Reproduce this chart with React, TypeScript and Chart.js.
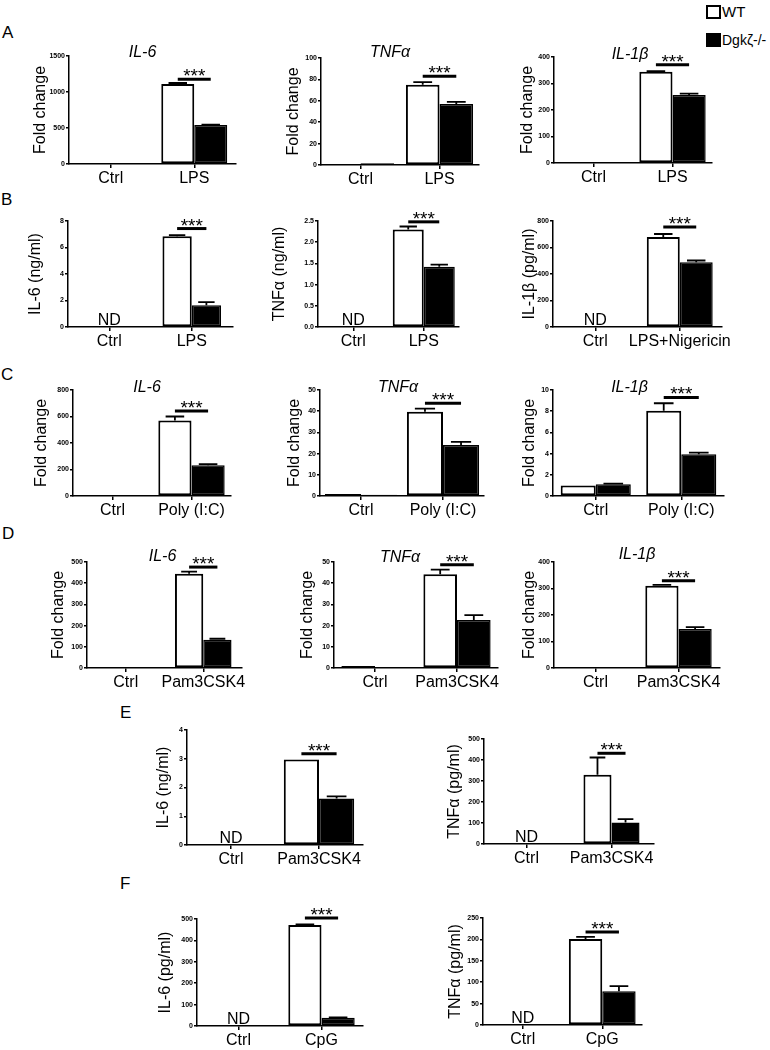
import React, { useEffect, useRef } from 'react';
import { Chart, registerables } from 'chart.js';

Chart.register(...registerables);

const FONT = '"Liberation Sans", Arial, Helvetica, sans-serif';

// ---------- categories ----------
const catLPS = ['Ctrl', 'LPS'];
const catLPSNig = ['Ctrl', 'LPS+Nigericin'];
const catPoly = ['Ctrl', 'Poly (I:C)'];
const catPam = ['Ctrl', 'Pam3CSK4'];
const catCpG = ['Ctrl', 'CpG'];

// ---------- A: fold change after LPS ----------
const A_IL6_WT = [1, 1110];
const A_IL6_KO = [1, 540];
const A_IL6_WT_SEM = [0, 15];
const A_IL6_KO_SEM = [0, 8];
const A_TNF_WT = [0.9, 75];
const A_TNF_KO = [1.6, 57];
const A_TNF_WT_SEM = [0, 2.5];
const A_TNF_KO_SEM = [0, 2];
const A_IL1B_WT = [1, 344];
const A_IL1B_KO = [2, 257];
const A_IL1B_WT_SEM = [0, 3];
const A_IL1B_KO_SEM = [0, 5];

// ---------- B: protein after LPS ----------
const B_IL6_WT = [null, 6.85];
const B_IL6_KO = [null, 1.65];
const B_IL6_WT_SEM = [0, 0.08];
const B_IL6_KO_SEM = [0, 0.22];
const B_TNF_WT = [null, 2.3];
const B_TNF_KO = [null, 1.42];
const B_TNF_WT_SEM = [0, 0.07];
const B_TNF_KO_SEM = [0, 0.05];
const B_IL1B_WT = [null, 680];
const B_IL1B_KO = [null, 488];
const B_IL1B_WT_SEM = [0, 22];
const B_IL1B_KO_SEM = [0, 14];

// ---------- C: fold change after Poly (I:C) ----------
const C_IL6_WT = [1, 570];
const C_IL6_KO = [1, 233];
const C_IL6_WT_SEM = [0, 30];
const C_IL6_KO_SEM = [0, 7];
const C_TNF_WT = [1, 39.7];
const C_TNF_KO = [0.6, 24];
const C_TNF_WT_SEM = [0, 1.5];
const C_TNF_KO_SEM = [0, 1.5];
const C_IL1B_WT = [1, 8.05];
const C_IL1B_KO = [1.1, 3.95];
const C_IL1B_WT_SEM = [0, 0.7];
const C_IL1B_KO_SEM = [0.07, 0.15];

// ---------- D: fold change after Pam3CSK4 ----------
const D_IL6_WT = [1, 445];
const D_IL6_KO = [1, 133];
const D_IL6_WT_SEM = [0, 10];
const D_IL6_KO_SEM = [0, 5];
const D_TNF_WT = [1, 44.2];
const D_TNF_KO = [0.3, 22.7];
const D_TNF_WT_SEM = [0, 2.2];
const D_TNF_KO_SEM = [0, 2.2];
const D_IL1B_WT = [1, 310];
const D_IL1B_KO = [1, 147];
const D_IL1B_WT_SEM = [0, 4];
const D_IL1B_KO_SEM = [0, 7];

// ---------- E: protein after Pam3CSK4 ----------
const E_IL6_WT = [null, 2.97];
const E_IL6_KO = [null, 1.62];
const E_IL6_WT_SEM = [0, 0];
const E_IL6_KO_SEM = [0, 0.07];
const E_TNF_WT = [null, 330];
const E_TNF_KO = [null, 102];
const E_TNF_WT_SEM = [0, 82];
const E_TNF_KO_SEM = [0, 16];

// ---------- F: protein after CpG ----------
const F_IL6_WT = [null, 472];
const F_IL6_KO = [null, 38];
const F_IL6_WT_SEM = [0, 3];
const F_IL6_KO_SEM = [0, 2];
const F_TNF_WT = [null, 201];
const F_TNF_KO = [null, 79];
const F_TNF_WT_SEM = [0, 5];
const F_TNF_KO_SEM = [0, 12];

// ---------- axis maxima / steps ----------
const yMaxes = [1500, 100, 400, 8, 2.5, 800, 800, 50, 10, 500, 50, 400, 4, 500, 500, 250];
const ySteps = [500, 20, 100, 2, 0.5, 200, 200, 10, 2, 100, 10, 100, 1, 100, 100, 50];
// height of the significance line (data units)
const sigLevels = [1176, 83, 371, 7.43, 2.48, 755, 641, 43.7, 9.3, 476, 48.7, 329, 3.17, 432, 505, 217];

const titles = ['IL-6', 'TNFα', 'IL-1β', '', '', '', 'IL-6', 'TNFα', 'IL-1β', 'IL-6', 'TNFα', 'IL-1β', '', '', '', ''];
const yLabels = [
  'Fold change', 'Fold change', 'Fold change',
  'IL-6 (ng/ml)', 'TNFα (ng/ml)', 'IL-1β (pg/ml)',
  'Fold change', 'Fold change', 'Fold change',
  'Fold change', 'Fold change', 'Fold change',
  'IL-6 (ng/ml)', 'TNFα (pg/ml)',
  'IL-6 (pg/ml)', 'TNFα (pg/ml)',
];

const panelData = [
  { cats: catLPS, wt: A_IL6_WT, ko: A_IL6_KO, wtE: A_IL6_WT_SEM, koE: A_IL6_KO_SEM, nd: false },
  { cats: catLPS, wt: A_TNF_WT, ko: A_TNF_KO, wtE: A_TNF_WT_SEM, koE: A_TNF_KO_SEM, nd: false },
  { cats: catLPS, wt: A_IL1B_WT, ko: A_IL1B_KO, wtE: A_IL1B_WT_SEM, koE: A_IL1B_KO_SEM, nd: false },
  { cats: catLPS, wt: B_IL6_WT, ko: B_IL6_KO, wtE: B_IL6_WT_SEM, koE: B_IL6_KO_SEM, nd: true },
  { cats: catLPS, wt: B_TNF_WT, ko: B_TNF_KO, wtE: B_TNF_WT_SEM, koE: B_TNF_KO_SEM, nd: true },
  { cats: catLPSNig, wt: B_IL1B_WT, ko: B_IL1B_KO, wtE: B_IL1B_WT_SEM, koE: B_IL1B_KO_SEM, nd: true },
  { cats: catPoly, wt: C_IL6_WT, ko: C_IL6_KO, wtE: C_IL6_WT_SEM, koE: C_IL6_KO_SEM, nd: false },
  { cats: catPoly, wt: C_TNF_WT, ko: C_TNF_KO, wtE: C_TNF_WT_SEM, koE: C_TNF_KO_SEM, nd: false },
  { cats: catPoly, wt: C_IL1B_WT, ko: C_IL1B_KO, wtE: C_IL1B_WT_SEM, koE: C_IL1B_KO_SEM, nd: false },
  { cats: catPam, wt: D_IL6_WT, ko: D_IL6_KO, wtE: D_IL6_WT_SEM, koE: D_IL6_KO_SEM, nd: false },
  { cats: catPam, wt: D_TNF_WT, ko: D_TNF_KO, wtE: D_TNF_WT_SEM, koE: D_TNF_KO_SEM, nd: false },
  { cats: catPam, wt: D_IL1B_WT, ko: D_IL1B_KO, wtE: D_IL1B_WT_SEM, koE: D_IL1B_KO_SEM, nd: false },
  { cats: catPam, wt: E_IL6_WT, ko: E_IL6_KO, wtE: E_IL6_WT_SEM, koE: E_IL6_KO_SEM, nd: true },
  { cats: catPam, wt: E_TNF_WT, ko: E_TNF_KO, wtE: E_TNF_WT_SEM, koE: E_TNF_KO_SEM, nd: true },
  { cats: catCpG, wt: F_IL6_WT, ko: F_IL6_KO, wtE: F_IL6_WT_SEM, koE: F_IL6_KO_SEM, nd: true },
  { cats: catCpG, wt: F_TNF_WT, ko: F_TNF_KO, wtE: F_TNF_WT_SEM, koE: F_TNF_KO_SEM, nd: true },
];

// ---------- layout (page pixels): axis left, axis right, top tick, zero, y-title centre, title dx, title y, category % ----------
const layoutTable = [
  { x0: 69, x1: 236, yT: 56, y0: 164, yl: 41, tdx: -10, tY: 53, cp: 0.79 },
  { x0: 321, x1: 479, yT: 58, y0: 165, yl: 294, tdx: -10, tY: 53, cp: 0.85 },
  { x0: 554, x1: 712, yT: 57, y0: 163, yl: 528, tdx: -3, tY: 55, cp: 0.84 },
  { x0: 68, x1: 233, yT: 221, y0: 327, yl: 36, tdx: 0, tY: 0, cp: 0.71 },
  { x0: 318, x1: 459, yT: 221, y0: 327, yl: 280, tdx: 0, tY: 0, cp: 0.88 },
  { x0: 553, x1: 722, yT: 221, y0: 327, yl: 530, tdx: 0, tY: 0, cp: 0.78 },
  { x0: 73, x1: 231, yT: 390, y0: 496, yl: 42, tdx: -5, tY: 388, cp: 0.84 },
  { x0: 320, x1: 484, yT: 390, y0: 496, yl: 295, tdx: -4, tY: 388, cp: 0.88 },
  { x0: 553, x1: 724, yT: 390, y0: 496, yl: 530, tdx: -9, tY: 388, cp: 0.82 },
  { x0: 87, x1: 242, yT: 562, y0: 668, yl: 59, tdx: -2, tY: 557, cp: 0.73 },
  { x0: 334, x1: 498, yT: 562, y0: 668, yl: 308, tdx: -16, tY: 558, cp: 0.82 },
  { x0: 554, x1: 720, yT: 562, y0: 668, yl: 530, tdx: 0, tY: 555, cp: 0.8 },
  { x0: 187, x1: 363, yT: 730, y0: 845, yl: 164, tdx: 0, tY: 0, cp: 0.8 },
  { x0: 484, x1: 654, yT: 739, y0: 844, yl: 455, tdx: 0, tY: 0, cp: 0.66 },
  { x0: 197, x1: 363, yT: 919, y0: 1026, yl: 166, tdx: 0, tY: 0, cp: 0.8 },
  { x0: 483, x1: 642, yT: 918, y0: 1025, yl: 456, tdx: 0, tY: 0, cp: 0.84 },
];

const PAD_T = 30;
const PAD_R = 55;
const PAD_B = 32;
const YT_SIZE = 16;

function Panel({ idx }: { idx: number }) {
  const ref = useRef<HTMLCanvasElement>(null);
  const d = panelData[idx];
  const g = layoutTable[idx];
  const L = g.x0 - g.yl + YT_SIZE / 2;
  const W = g.x1 - g.x0 + L + PAD_R;
  const H = g.y0 - g.yT + PAD_T + PAD_B;
  const canvasTop = g.yT - PAD_T;

  useEffect(() => {
    const step = ySteps[idx];
    const decor = {
      id: 'decor',
      afterDatasetsDraw(chart: any) {
        const ctx = chart.ctx;
        const ys = chart.scales.y;
        const xs = chart.scales.x;
        const area = chart.chartArea;
        ctx.save();
        ctx.strokeStyle = '#000';
        ctx.fillStyle = '#000';
        // error bars (upper only)
        [d.wtE, d.koE].forEach((errs: number[], di: number) => {
          const vals = di === 0 ? d.wt : d.ko;
          const meta = chart.getDatasetMeta(di);
          meta.data.forEach((bar: any, i: number) => {
            const v = vals[i];
            const e = errs[i];
            if (v == null || !e) return;
            const top = ys.getPixelForValue(v + e);
            const base = ys.getPixelForValue(v);
            const cx = bar.x;
            const hw = bar.width * 0.28;
            ctx.lineWidth = 1.8;
            ctx.beginPath();
            ctx.moveTo(cx, base);
            ctx.lineTo(cx, top);
            ctx.moveTo(cx - hw, top);
            ctx.lineTo(cx + hw, top);
            ctx.stroke();
          });
        });
        // significance
        const m0 = chart.getDatasetMeta(0).data[1];
        const m1 = chart.getDatasetMeta(1).data[1];
        const sy = ys.getPixelForValue(sigLevels[idx]);
        ctx.lineWidth = 3;
        ctx.beginPath();
        ctx.moveTo(m0.x, sy);
        ctx.lineTo(m1.x, sy);
        ctx.stroke();
        ctx.font = `19px ${FONT}`;
        ctx.textAlign = 'center';
        ctx.textBaseline = 'alphabetic';
        const tm = ctx.measureText('***');
        const above = -(tm.actualBoundingBoxDescent || -8);
        ctx.fillText('***', (m0.x + m1.x) / 2, sy - 3 + above);
        // ND
        if (d.nd) {
          ctx.font = `16px ${FONT}`;
          ctx.fillText('ND', xs.getPixelForValue(0), area.bottom - 2);
        }
        // title
        if (titles[idx]) {
          ctx.font = `italic 16px ${FONT}`;
          ctx.textBaseline = 'middle';
          ctx.fillText(titles[idx], (area.left + area.right) / 2 + g.tdx, g.tY - canvasTop);
        }
        ctx.restore();
      },
    };

    const chart = new Chart(ref.current as HTMLCanvasElement, {
      type: 'bar',
      data: {
        labels: d.cats,
        datasets: [
          { label: 'WT', data: d.wt, backgroundColor: '#fff', borderColor: '#000', borderWidth: 2, borderSkipped: false },
          { label: 'Dgkζ-/-', data: d.ko, backgroundColor: '#000', borderColor: '#000', borderWidth: 1.5, borderSkipped: false },
        ],
      },
      options: {
        responsive: false,
        animation: false,
        devicePixelRatio: 1,
        layout: { padding: { top: PAD_T, right: PAD_R, left: 0, bottom: 0 } },
        datasets: { bar: { categoryPercentage: g.cp, barPercentage: 1 } },
        plugins: { legend: { display: false }, tooltip: { enabled: false } },
        scales: {
          x: {
            offset: true,
            grid: { display: true, drawOnChartArea: false, drawTicks: true, tickLength: 4, offset: false, color: '#000', lineWidth: 1.5 },
            border: { display: true, color: '#000', width: 1.5 },
            ticks: { color: '#000', font: { family: FONT, size: 16 }, padding: 1, maxRotation: 0, autoSkip: false },
            afterFit: (s: any) => { s.height = PAD_B; },
          },
          y: {
            min: 0,
            max: yMaxes[idx],
            grid: { drawOnChartArea: false, drawTicks: true, tickLength: 3, color: '#000', lineWidth: 1.5 },
            border: { display: true, color: '#000', width: 1.5 },
            ticks: {
              stepSize: step,
              color: '#000',
              font: { family: FONT, size: 7, weight: 'bold' },
              padding: 1,
              callback: (v: any) => (step < 1 ? Number(v).toFixed(1) : String(v)),
            },
            title: { display: true, text: yLabels[idx], color: '#000', font: { family: FONT, size: YT_SIZE, lineHeight: 1 }, padding: 0 },
            afterFit: (s: any) => { s.width = L; },
          },
        },
      },
      plugins: [decor],
    } as any);
    return () => chart.destroy();
  }, []);

  return (
    <canvas
      ref={ref}
      width={W}
      height={H}
      style={{ position: 'absolute', left: g.x0 - L, top: canvasTop, width: W, height: H }}
    />
  );
}

const letters = [
  { t: 'A', x: 2, y: 33 },
  { t: 'B', x: 1, y: 200 },
  { t: 'C', x: 1, y: 375 },
  { t: 'D', x: 2, y: 534 },
  { t: 'E', x: 120, y: 713 },
  { t: 'F', x: 120, y: 884 },
];

export default function App() {
  return (
    <div style={{ position: 'absolute', left: 0, top: 0, width: 770, height: 1050, background: '#fff', fontFamily: FONT, color: '#000' }}>
      {letters.map((l) => (
        <div key={l.t} style={{ position: 'absolute', left: l.x, top: l.y - 10, fontSize: 17, lineHeight: '20px' }}>{l.t}</div>
      ))}
      <div style={{ position: 'absolute', left: 706, top: 5, width: 11, height: 10, border: '2px solid #000', background: '#fff' }} />
      <div style={{ position: 'absolute', left: 722, top: 3, fontSize: 15, lineHeight: '17px' }}>WT</div>
      <div style={{ position: 'absolute', left: 706, top: 33, width: 15, height: 14, background: '#000' }} />
      <div style={{ position: 'absolute', left: 722, top: 32, fontSize: 14, lineHeight: '17px' }}>Dgkζ-/-</div>
      {panelData.map((_, i) => (
        <Panel key={i} idx={i} />
      ))}
    </div>
  );
}
